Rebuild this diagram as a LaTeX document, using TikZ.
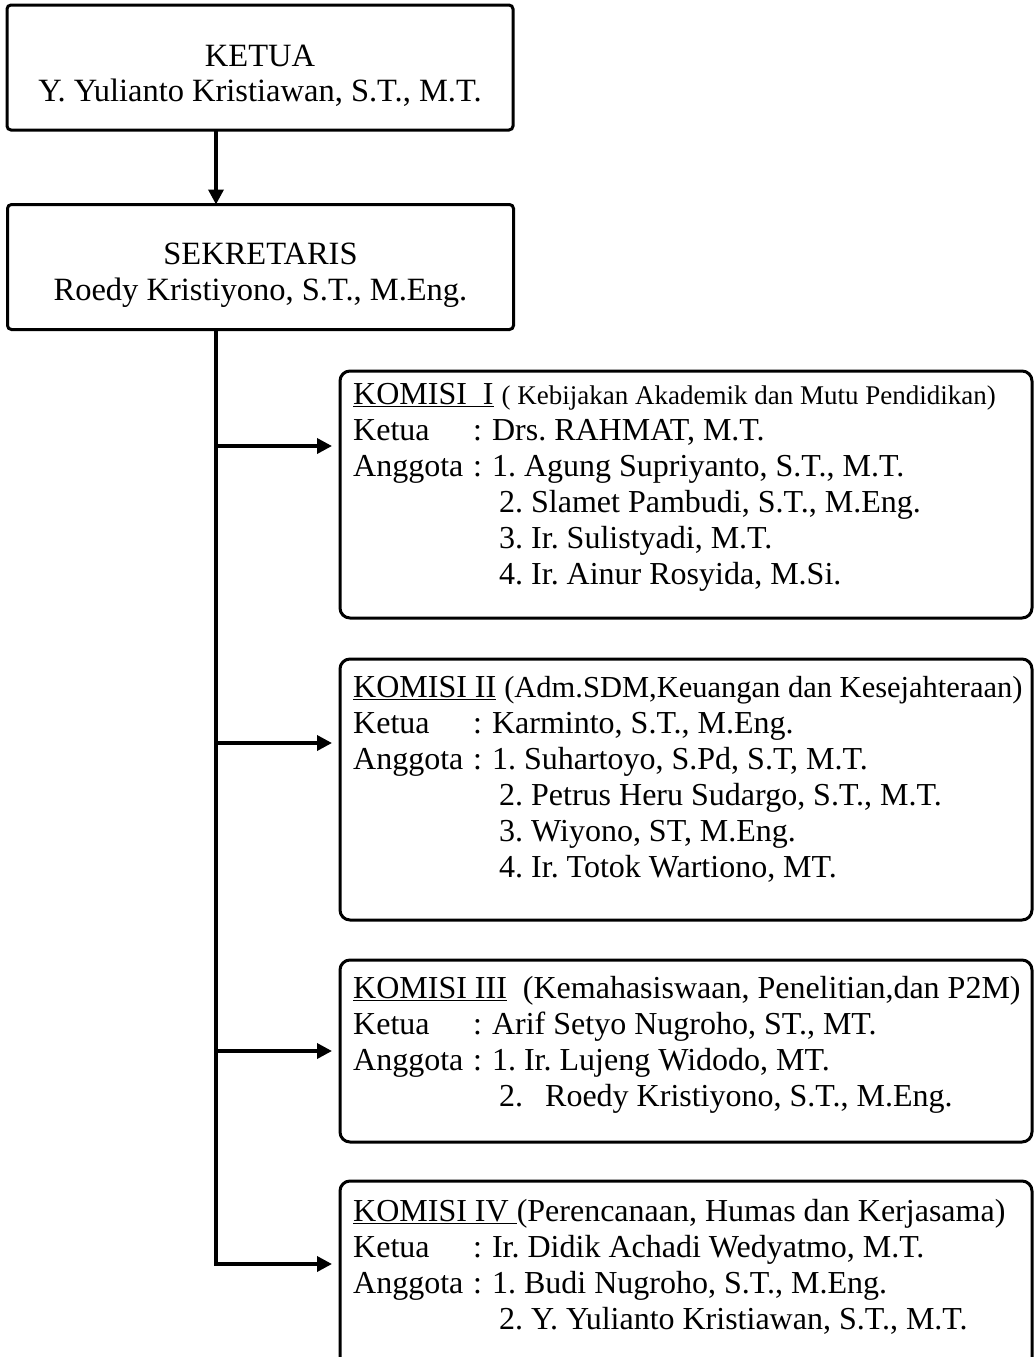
\documentclass[tikz,border=0pt]{standalone}
\usepackage{fontspec}
\setmainfont{Liberation Serif}
\usetikzlibrary{arrows.meta, positioning}

\newcommand{\jabatan}[1]{\makebox[120pt][l]{#1}:\hspace{10pt}}
\newcommand{\lanjut}{\hspace*{146pt}}
\frenchspacing

\begin{document}
\begin{tikzpicture}[x=1pt, y=-1pt,
        topbox/.style={rectangle, draw=black, line width=3pt, rounded corners=4pt, minimum width=506pt, minimum height=125pt, align=center, outer sep=0pt, font=\fontsize{32.5}{35.5}\selectfont},
        kombox/.style={rectangle, draw=black, line width=3pt, rounded corners=10pt, minimum width=692pt, anchor=north west, outer sep=0pt},
        komtext/.style={align=left, inner sep=0pt, font=\fontsize{32}{36}\selectfont},
        arr/.style={-{Triangle[length=15pt, width=15pt]}, line width=3.5pt},
        branch/.style={arr, shorten >=8pt}
    ]
        \useasboundingbox (0,0) rectangle (1035,1357);

        \node[topbox] (ketua) at (260,67.5) {\rule{0pt}{38pt}KETUA\\Y. Yulianto Kristiawan, S.T., M.T.};
        \node[topbox] (sekr) at (260.5,267) {\rule{0pt}{38pt}SEKRETARIS\\Roedy Kristiyono, S.T., M.Eng.};

        \node[kombox, minimum height=247pt] (k1) at (340,371) {};
        \node[kombox, minimum height=261pt] (k2) at (340,659) {};
        \node[kombox, minimum height=182pt] (k3) at (340,960) {};
        \node[kombox, minimum height=200pt] (k4) at (340,1181) {};

        \node[komtext, below right=12pt and 13pt of k1.north west] (k1isi) {
            \underline{KOMISI\ \ I} {\fontsize{27}{36}\selectfont( Kebijakan Akademik dan Mutu Pendidikan)}\\
            \jabatan{Ketua}Drs. RAHMAT, M.T.\\
            \jabatan{Anggota}1. Agung Supriyanto, S.T., M.T.\\
            \lanjut 2. Slamet Pambudi, S.T., M.Eng.\\
            \lanjut 3. Ir. Sulistyadi, M.T.\\
            \lanjut 4. Ir. Ainur Rosyida, M.Si.
        };
        \node[komtext, below right=17pt and 13pt of k2.north west] (k2isi) {
            \underline{KOMISI II} {\fontsize{30.5}{36}\selectfont(Adm.SDM,Keuangan dan Kesejahteraan)}\\
            \jabatan{Ketua}Karminto, S.T., M.Eng.\\
            \jabatan{Anggota}1. Suhartoyo, S.Pd, S.T, M.T.\\
            \lanjut 2. Petrus Heru Sudargo, S.T., M.T.\\
            \lanjut 3. Wiyono, ST, M.Eng.\\
            \lanjut 4. Ir. Totok Wartiono, MT.
        };
        \node[komtext, below right=16pt and 13pt of k3.north west] (k3isi) {
            \underline{KOMISI III}\ \ (Kemahasiswaan, Penelitian,dan P2M)\\
            \jabatan{Ketua}Arif Setyo Nugroho, ST., MT.\\
            \jabatan{Anggota}1. Ir. Lujeng Widodo, MT.\\
            \lanjut 2.\hspace{22pt}Roedy Kristiyono, S.T., M.Eng.
        };
        \node[komtext, below right=18pt and 13pt of k4.north west] (k4isi) {
            \underline{KOMISI IV }(Perencanaan, Humas dan Kerjasama)\\
            \jabatan{Ketua}Ir. Didik Achadi Wedyatmo, M.T.\\
            \jabatan{Anggota}1. Budi Nugroho, S.T., M.Eng.\\
            \lanjut 2. Y. Yulianto Kristiawan, S.T., M.T.
        };

        \coordinate (trunk) at (216,0);
        \coordinate (a1) at (216,446);
        \coordinate (a2) at (216,743);
        \coordinate (a3) at (216,1051);
        \coordinate (a4) at (216,1264);

        \draw[arr] (ketua.south -| trunk) -- (sekr.north -| trunk);
        \draw[branch] (sekr.south -| trunk) -- (a4) -- (a4 -| k4.west);
        \foreach \i in {1,2,3}
            \draw[branch] (a\i) -- (a\i -| k\i.west);
    \end{tikzpicture}
\end{document}
